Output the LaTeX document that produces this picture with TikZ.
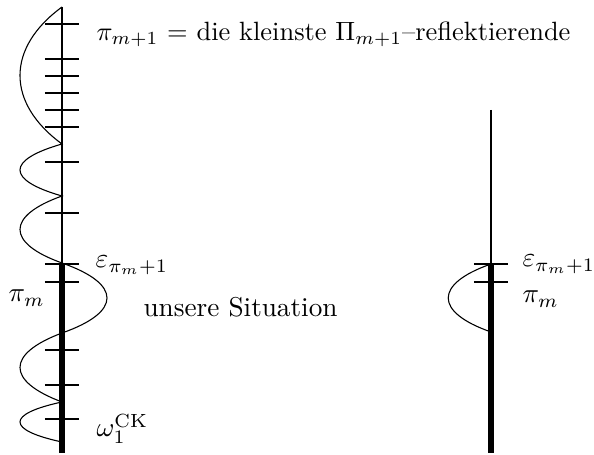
\documentclass[tikz,border=0pt]{standalone}
\usepackage{amsmath}
\usepackage{amssymb}
\usepackage{tikz}
\usetikzlibrary{positioning}

\begin{document}
\begin{tikzpicture}[x=0.367pt, y=-0.367pt,
  axis/.style={line width=0.4pt},
  heavy/.style={line width=2.2pt},
  tick/.style={line width=0.4pt},
  wave/.style={line width=0.4pt},
  lbl/.style={inner sep=0pt, anchor=base west}
]
  \useasboundingbox (0,0) rectangle (594,455);

  % left column
  \coordinate (Ltop) at (62,7);
  \coordinate (Leps) at (62,264);
  \coordinate (Lbot) at (62,453);
  \draw[axis]  (Ltop) -- (Leps);
  \draw[heavy] (Leps) -- (Lbot);
  \foreach \y in {24,59,76,93,110,127,162,213,264,282,350,385,419}
    \draw[tick] (45,\y) -- (79,\y);

  \draw[wave] (Ltop) .. controls (6,48) and (6,103) .. (62,144)
              .. controls (6,160) and (6,180) .. (62,196)
              .. controls (6,216) and (6,243) .. (62,263)
              .. controls (122,284) and (122,312) .. (62,333)
              .. controls (6,354) and (6,381) .. (62,402)
              .. controls (6,414) and (6,430) .. (62,442);

  \node[lbl] (lim)   at (96,41)  {\scalebox{0.97}{$\pi_{m+1}$ = die kleinste $\Pi_{m+1}$--reflektierende}};
  \node[lbl] (epsL)  at (95,268) {$\varepsilon_{\pi_m+1}$};
  \node[lbl] (piL)   at (8,302)  {$\pi_m$};
  \node[lbl] (sit)   at (143,317) {unsere Situation};
  \node[lbl] (omega) at (96,437) {$\omega_1^{\mathrm{CK}}$};

  % right column
  \coordinate (Rtop) at (491,110);
  \coordinate (Reps) at (491,264);
  \coordinate (Rbot) at (491,453);
  \draw[axis]  (Rtop) -- (Reps);
  \draw[heavy] (Reps) -- (Rbot);
  \foreach \y in {264,282}
    \draw[tick] (474,\y) -- (508,\y);

  \draw[wave] (Reps) .. controls (434,284) and (434,312) .. (491,332);

  \node[lbl] (epsR) at (522,267) {$\varepsilon_{\pi_m+1}$};
  \node[lbl] (piR)  at (522,303) {$\pi_m$};
\end{tikzpicture}
\end{document}
